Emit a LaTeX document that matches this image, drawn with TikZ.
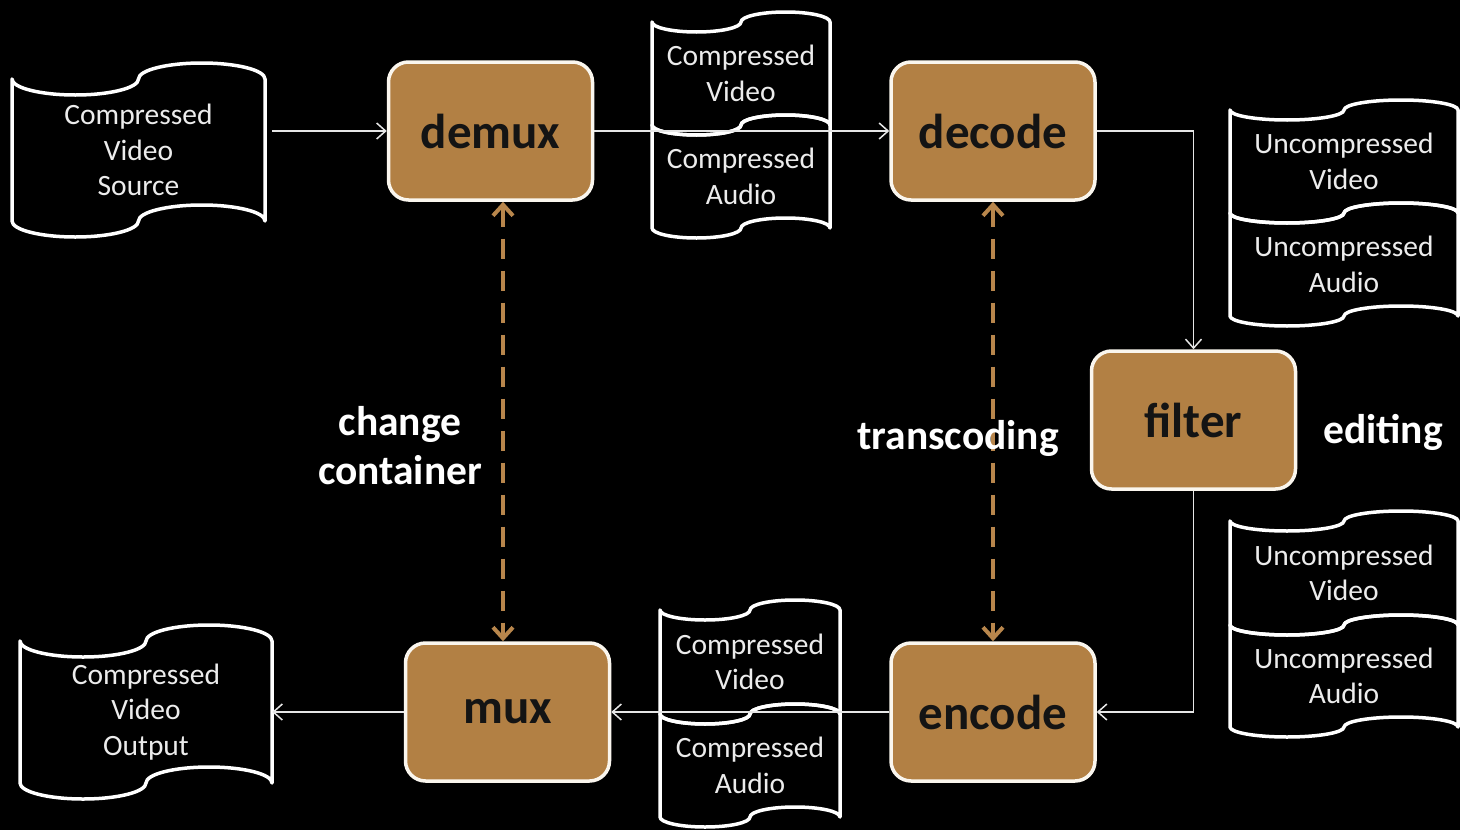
\documentclass[tikz,border=0pt]{standalone}
\usepackage{fontspec}
\setmainfont{Carlito}
\usetikzlibrary{arrows.meta}
\definecolor{boxbrown}{RGB}{178,128,68}
\definecolor{dashbrown}{RGB}{184,134,76}
\definecolor{edgewhite}{RGB}{250,246,238}
\definecolor{tapetxt}{RGB}{236,236,236}
\definecolor{linegray}{RGB}{230,230,230}
\tikzset{
  proc/.style={draw=edgewhite, line width=3.5pt, fill=boxbrown, rounded corners=20pt,
    minimum width=204pt, minimum height=138pt, inner sep=0pt,
    text=black!92, font=\fontsize{49}{55}\selectfont\bfseries},
  tapeline/.style={draw=white, line width=3.5pt, line join=round},
  tapetext/.style={inner sep=0pt, align=center, text=tapetxt,
    font=\fontsize{29.5}{35.5}\selectfont},
  lab/.style={inner sep=0pt, align=center, text=white,
    font=\fontsize{41.5}{49}\selectfont\bfseries},
  conn/.style={draw=linegray, line width=1.5pt, -{Straight Barb[length=9pt,width=16pt]}},
  dasharr/.style={draw=dashbrown, line width=4pt, dash pattern=on 20pt off 12pt,
    {Straight Barb[length=11pt,width=20pt]}-{Straight Barb[length=11pt,width=20pt]}}
}
% \tape{name}{x0}{x1}{ytop}{ybot}{amp}{text}
\newcommand\tape[7]{%
  \pgfmathsetmacro\tpq{(#3-#2)/4}%
  \pgfmathsetmacro\tpw{#3-#2}%
  \pgfmathsetmacro\tph{#5-#4}%
  \pgfmathsetmacro\tpcx{(#2+#3)/2}%
  \pgfmathsetmacro\tpcy{(#4+#5)/2}%
  \draw[tapeline] (#2,#4)
    arc[start angle=180,end angle=360,x radius=\tpq pt,y radius=#6pt]
    arc[start angle=180,end angle=0,x radius=\tpq pt,y radius=#6pt]
    -- (#3,#5)
    arc[start angle=0,end angle=180,x radius=\tpq pt,y radius=#6pt]
    arc[start angle=0,end angle=-180,x radius=\tpq pt,y radius=#6pt]
    -- cycle;
  \node[tapetext, minimum width=\tpw pt, minimum height=\tph pt] (#1) at (\tpcx,\tpcy) {#7};
}
\begin{document}
\begin{tikzpicture}[x=1pt,y=-1pt]
\fill[black] (0,0) rectangle (1460,830);
\useasboundingbox (0,0) rectangle (1460,830);

% tapes
\tape{src}{12}{265}{79}{221}{16}{Compressed\\Video\\Source}
\tape{cv1}{652}{830}{22}{125}{10}{Compressed\\Video}
\tape{ca1}{652}{830}{125}{228}{10}{Compressed\\Audio}
\tape{uv1}{1230}{1458}{110}{213}{10}{Uncompressed\\Video}
\tape{ua1}{1230}{1458}{213}{316}{10}{Uncompressed\\Audio}
\tape{uv2}{1230}{1458}{521}{625}{10}{Uncompressed\\Video}
\tape{ua2}{1230}{1458}{625}{727}{10}{Uncompressed\\Audio}
\tape{cv2}{660}{840}{610}{714}{10}{Compressed\\Video}
\tape{ca2}{660}{840}{714}{817}{10}{Compressed\\Audio}
\tape{out}{20}{272}{641}{783}{16}{Compressed\\Video\\Output}

% process boxes
\node[proc] (demux)  at (490.5,131) {demux};
\node[proc] (decode) at (993,131)   {decode};
\node[proc] (filter) at (1193.5,420) {filter};
\node[proc] (encode) at (993,712)   {encode};
\node[proc] (mux)    at (507.5,712) {mux};

% connectors
\draw[conn, shorten <=7pt] (src.east |- demux.west) -- (demux.west);
\draw[conn] (demux.east) -- (decode.west);
\draw[conn] (decode.east) -| (filter.north);
\draw[conn] (filter.south) |- (encode.east);
\draw[conn] (encode.west) -- (mux.east);
\draw[conn] (mux.west) -- (out.east |- mux.west);

% dashed double arrows
\draw[dasharr] ([xshift=12.5pt]demux.south) -- ([xshift=-4.5pt]mux.north);
\draw[dasharr] (decode.south) -- (encode.north);

% labels
\node[lab] (cc) at (400,446) {change\\container};
\node[lab] (tc) at (958,438) {transcoding};
\node[lab] (ed) at (1383,432) {editing};
\end{tikzpicture}
\end{document}
